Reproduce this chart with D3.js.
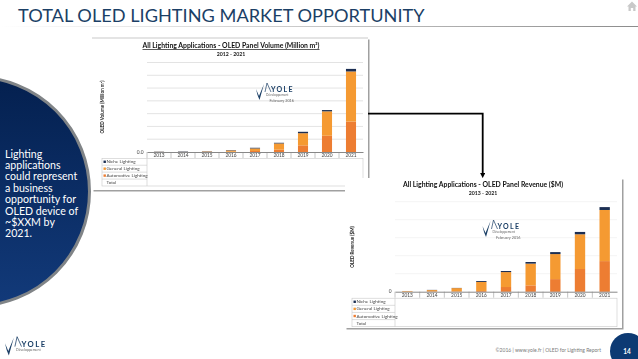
<!DOCTYPE html>
<html>
<head>
<meta charset="utf-8">
<script src="https://cdn.jsdelivr.net/npm/d3@7"></script>
<style>
  html, body { margin: 0; padding: 0; background: #fff; }
  svg { display: block; font-family: Lato, "Open Sans", sans-serif; }
  .panel { filter: url(#soft); }
</style>
</head>
<body>
<svg id="slide" width="638" height="359"></svg>
<script>
const years = ["2013", "2014", "2015", "2016", "2017", "2018", "2019", "2020", "2021"];
const legendRows = ["Niche Lighting", "General Lighting", "Automotive Lighting", "Total"];

// volume chart, in gridline units (the axis has no readable numbers)
const volumeAuto = [0, 0, 0.01, 0.02, 0.08, 0.18, 0.52, 1.27, 2.38];
const volumeGeneral = [0.01, 0.01, 0.03, 0.10, 0.20, 0.49, 0.95, 1.91, 3.92];
const volumeNiche = [0.02, 0.03, 0.02, 0.03, 0.05, 0.05, 0.11, 0.10, 0.20];

// revenue chart
const revenueAuto = [0.01, 0.02, 0.02, 0.04, 0.26, 0.35, 0.70, 1.26, 1.70];
const revenueGeneral = [0.03, 0.07, 0.18, 0.50, 0.83, 1.21, 1.39, 1.93, 2.84];
const revenueNiche = [0, 0.01, 0.01, 0.05, 0.06, 0.09, 0.11, 0.13, 0.16];

const sideText = ["Lighting", "applications", "could represent", "a business", "opportunity for", "OLED device of", "~$XXM by", "2021."];

const svg = d3.select("#slide");
const defs = svg.append("defs");

const soft = defs.append("filter").attr("id", "soft");
soft.append("feGaussianBlur").attr("stdDeviation", 0.3);

const navy = defs.append("linearGradient").attr("id", "navy")
    .attr("x1", 0).attr("y1", 0).attr("x2", 0).attr("y2", 1);
navy.append("stop").attr("offset", "0%").attr("stop-color", "#04204f");
navy.append("stop").attr("offset", "100%").attr("stop-color", "#123a7a");

const rule = defs.append("linearGradient").attr("id", "rule");
rule.append("stop").attr("offset", "0%").attr("stop-color", "#ffffff");
rule.append("stop").attr("offset", "100%").attr("stop-color", "#8c8c8c");

const shadow = defs.append("filter").attr("id", "shadow")
    .attr("x", "-5%").attr("y", "-5%").attr("width", "110%").attr("height", "110%");
shadow.append("feDropShadow").attr("dx", 1.5).attr("dy", 1.5).attr("stdDeviation", 0.6)
    .attr("flood-color", "#777").attr("flood-opacity", 0.7);

// header
svg.append("text").attr("x", 18).attr("y", 21.5)
    .attr("font-size", 18.2).attr("fill", "#1b3f66")
    .text("TOTAL OLED LIGHTING MARKET OPPORTUNITY");
svg.append("rect").attr("x", 0).attr("y", 26).attr("width", 638).attr("height", 1)
    .attr("fill", "url(#rule)");
svg.append("path")
    .attr("d", "M627 6.5 L632 1.5 L637 6.5 L635.5 6.5 L635.5 11 L633.2 11 L633.2 8 L630.8 8 L630.8 11 L628.5 11 L628.5 6.5 Z")
    .attr("fill", "#c9c9c9");

// side circle
svg.append("circle").attr("cx", -25).attr("cy", 191.5).attr("r", 114.5)
    .attr("fill", "url(#navy)").attr("stroke", "#808487").attr("stroke-width", 3);
svg.append("g").selectAll("text").data(sideText).join("text")
    .attr("x", 5).attr("y", (d, i) => 157.5 + i * 11.4)
    .attr("font-size", 10.6).attr("fill", "#ffffff")
    .text(d => d);

// connector between the two panels
defs.append("marker").attr("id", "arrow")
    .attr("markerWidth", 3).attr("markerHeight", 3).attr("refX", 1).attr("refY", 1.5)
    .attr("orient", "auto")
    .append("path").attr("d", "M0 0 L3 1.5 L0 3 Z").attr("fill", "#000");

function drawPanel(cfg) {
  const g = svg.append("g").attr("class", "panel");

  g.append("rect")
      .attr("x", cfg.frame[0]).attr("y", cfg.frame[1])
      .attr("width", cfg.frame[2]).attr("height", cfg.frame[3])
      .attr("fill", "#fff").attr("filter", "url(#shadow)");
  if (cfg.topRule) {
    g.append("line")
        .attr("x1", cfg.frame[0]).attr("x2", cfg.frame[0] + cfg.frame[2])
        .attr("y1", cfg.frame[1]).attr("y2", cfg.frame[1])
        .attr("stroke", "#bbb").attr("stroke-width", 0.8);
  }

  const x = d3.scaleBand().domain(years).range(cfg.plotX);
  const y = d3.scaleLinear().domain([0, cfg.gridCount]).range(cfg.plotY);

  // gridlines
  g.append("g").selectAll("line").data(d3.range(1, cfg.gridCount + 1)).join("line")
      .attr("x1", cfg.plotX[0]).attr("x2", cfg.plotX[1])
      .attr("y1", d => y(d)).attr("y2", d => y(d))
      .attr("stroke", cfg.gridColor).attr("stroke-width", 0.8);

  // stacked bars
  const rows = years.map((year, i) => ({
    year,
    auto: cfg.auto[i],
    general: cfg.general[i],
    niche: cfg.niche[i]
  }));
  const stacked = d3.stack().keys(["auto", "general", "niche"])(rows);
  const colors = { auto: "#ed7d31", general: "#f59a33", niche: "#1b2f52" };
  const barWidth = x.bandwidth() * 0.42;

  g.append("g").selectAll("g").data(stacked).join("g")
      .attr("fill", d => colors[d.key])
      .selectAll("rect").data(d => d).join("rect")
      .attr("x", d => x(d.data.year) + (x.bandwidth() - barWidth) / 2)
      .attr("width", barWidth)
      .attr("y", d => y(d[1]))
      .attr("height", d => y(d[0]) - y(d[1]));

  const baseY = cfg.plotY[0];

  // year row with tick separators
  g.append("g").attr("transform", `translate(0, ${baseY})`)
      .call(d3.axisBottom(x).tickSize(0).tickPadding(2))
      .call(a => a.select(".domain").attr("stroke", "#555").attr("stroke-width", 0.7))
      .call(a => a.selectAll("text").attr("font-size", 4.8).attr("fill", "#444")
          .attr("font-family", "Lato, sans-serif"));
  g.append("g").selectAll("line").data(years).join("line")
      .attr("x1", d => x(d)).attr("x2", d => x(d))
      .attr("y1", baseY).attr("y2", baseY + 6)
      .attr("stroke", "#888").attr("stroke-width", 0.5);

  g.append("text").attr("x", cfg.plotX[0] - 3.5).attr("y", baseY + 1.5)
      .attr("text-anchor", "end").attr("font-size", 4.8).attr("fill", "#444")
      .text(cfg.zeroLabel);

  // data table under the plot
  const rowY = d3.scalePoint().domain(legendRows).range([baseY + cfg.tableTop, baseY + cfg.tableBottom]).padding(0.5);
  const tableLeft = cfg.tableLeft;
  const tableTop = baseY + cfg.tableTop;
  const tableBottom = baseY + cfg.tableBottom;
  const tableLines = g.append("g").attr("stroke", "#c8c8c8").attr("stroke-width", 0.6).attr("fill", "none");
  tableLines.append("rect").attr("x", tableLeft).attr("y", tableTop)
      .attr("width", cfg.plotX[1] - tableLeft).attr("height", tableBottom - tableTop);
  tableLines.append("line").attr("x1", cfg.plotX[0]).attr("x2", cfg.plotX[0])
      .attr("y1", tableTop).attr("y2", tableBottom);
  tableLines.selectAll(".sep").data(legendRows.slice(1)).join("line").attr("class", "sep")
      .attr("x1", tableLeft).attr("x2", cfg.plotX[0])
      .attr("y1", d => rowY(d) - rowY.step() / 2).attr("y2", d => rowY(d) - rowY.step() / 2);

  const swatches = ["#1b2f52", "#f59a33", "#ed7d31"];
  g.append("g").selectAll("rect").data(legendRows.slice(0, 3)).join("rect")
      .attr("x", tableLeft + 1.5).attr("y", d => rowY(d) - 1.2)
      .attr("width", 2.4).attr("height", 2.4)
      .attr("fill", (d, i) => swatches[i]);
  g.append("g").selectAll("text").data(legendRows).join("text")
      .attr("x", tableLeft + 4.5).attr("y", d => rowY(d) + 1.6)
      .attr("font-size", 4.6).attr("fill", "#444")
      .text(d => d);

  // titles
  g.append("text").attr("x", cfg.titleX).attr("y", cfg.titleY)
      .attr("text-anchor", "middle").attr("font-size", 6.85).attr("font-weight", 700)
      .attr("fill", "#111").attr("text-decoration", cfg.underline ? "underline" : null)
      .text(cfg.title);
  g.append("text").attr("x", cfg.titleX).attr("y", cfg.titleY + 7.5)
      .attr("text-anchor", "middle").attr("font-size", 5.2).attr("font-weight", 700)
      .attr("fill", "#222")
      .text(cfg.subtitle);

  g.append("text")
      .attr("transform", `translate(${cfg.yLabelX}, ${cfg.yLabelY}) rotate(-90)`)
      .attr("text-anchor", "middle").attr("font-size", 4.6).attr("font-weight", 700)
      .attr("fill", "#222")
      .text(cfg.yLabel);

  // watermark logo
  drawLogo(g, cfg.logoX, cfg.logoY, 1);
  g.append("text").attr("x", cfg.logoX + 38).attr("y", cfg.logoY + 16)
      .attr("text-anchor", "end").attr("font-size", 3.8).attr("fill", "#666")
      .text(cfg.logoNote);
}

function drawLogo(g, lx, ly, k) {
  g.append("path")
      .attr("d", `M${lx} ${ly + 3 * k} L${lx + 3 * k} ${ly + 10 * k} L${lx + 8 * k} ${ly - 2 * k} L${lx + 3.5 * k} ${ly + 14 * k} L${lx + 1.5 * k} ${ly + 9 * k} Z`)
      .attr("fill", "#1b3f66");
  g.append("path")
      .attr("d", `M${lx + 9 * k} ${ly + 6 * k} L${lx + 11 * k} ${ly - 3 * k} L${lx + 15 * k} ${ly + 6 * k}`)
      .attr("fill", "none").attr("stroke", "#1b3f66").attr("stroke-width", 0.7 * k);
  g.append("text").attr("x", lx + 15 * k).attr("y", ly + 6 * k)
      .attr("font-size", 7 * k).attr("letter-spacing", 1.3 * k).attr("font-weight", 700)
      .attr("fill", "#1b3f66").text("YOLE");
  g.append("text").attr("x", lx + 10 * k).attr("y", ly + 10 * k)
      .attr("font-size", 3.2 * k).attr("fill", "#666").text("Développement");
}

drawPanel({
  frame: [92, 38, 276, 152], topRule: true,
  plotX: [147, 363], plotY: [152, 62.5], gridCount: 7, gridColor: "#dcdcdc",
  auto: volumeAuto, general: volumeGeneral, niche: volumeNiche,
  zeroLabel: "0.0",
  tableLeft: 102, tableTop: 6.3, tableBottom: 34,
  title: "All Lighting Applications - OLED Panel Volume (Million m²)", subtitle: "2012 - 2021",
  underline: true, titleX: 231, titleY: 48,
  yLabel: "OLED Volume (Million m²)", yLabelX: 103.5, yLabelY: 107,
  logoX: 256, logoY: 86, logoNote: "February 2016"
});

drawPanel({
  frame: [345, 178, 277, 150], topRule: false,
  plotX: [395, 617], plotY: [291.7, 201.7], gridCount: 5, gridColor: "#f0f0f0",
  auto: revenueAuto, general: revenueGeneral, niche: revenueNiche,
  zeroLabel: "0",
  tableLeft: 352, tableTop: 6.5, tableBottom: 35,
  title: "All Lighting Applications - OLED Panel Revenue ($M)", subtitle: "2013 - 2021",
  underline: false, titleX: 483, titleY: 187,
  yLabel: "OLED Revenue ($M)", yLabelX: 353.5, yLabelY: 247,
  logoX: 482.5, logoY: 223, logoNote: "February 2016"
});

// drawn after the panels so the arrow tip stays on top of the lower frame
svg.append("path").attr("d", "M368 113.7 H482.7 V174.5")
    .attr("fill", "none").attr("stroke", "#000").attr("stroke-width", 1.8)
    .attr("marker-end", "url(#arrow)");

// bottom left logo
const corner = svg.append("g").attr("class", "panel");
drawLogo(corner, 5, 340, 1.1);

// footer
svg.append("text").attr("x", 601).attr("y", 352)
    .attr("text-anchor", "end").attr("font-size", 5).attr("fill", "#7a7a7a")
    .text("©2016 | www.yole.fr | OLED for Lighting Report");
svg.append("circle").attr("cx", 628).attr("cy", 351).attr("r", 18).attr("fill", "#0d3a73");
svg.append("text").attr("x", 627).attr("y", 353.5)
    .attr("text-anchor", "middle").attr("font-size", 6.5).attr("font-weight", 700)
    .attr("fill", "#fff").text("14");
</script>
</body>
</html>
